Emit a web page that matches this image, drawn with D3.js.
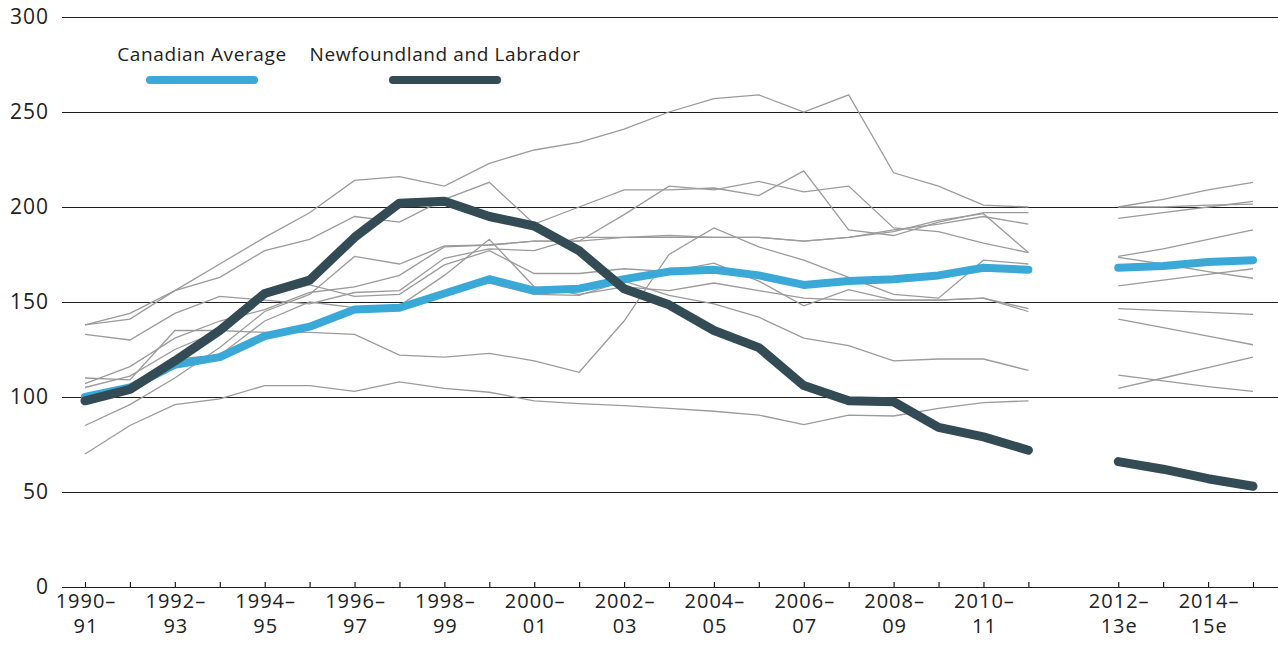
<!DOCTYPE html>
<html>
<head>
<meta charset="utf-8">
<script src="https://cdn.jsdelivr.net/npm/d3@7"></script>
<style>
    body { margin: 0; background: #fff; }
    svg text { font-family: "Open Sans", sans-serif; fill: #222; }
</style>
</head>
<body>
<svg id="chart" width="1278" height="648"></svg>
<script>
// categories
const years = ["1990–91", "1991–92", "1992–93", "1993–94", "1994–95", "1995–96", "1996–97",
    "1997–98", "1998–99", "1999–00", "2000–01", "2001–02", "2002–03", "2003–04", "2004–05",
    "2005–06", "2006–07", "2007–08", "2008–09", "2009–10", "2010–11", "2011–12"];
const projYears = ["2012–13e", "2013–14e", "2014–15e", "2015–16e"];
const labelledYears = ["1990–91", "1992–93", "1994–95", "1996–97", "1998–99", "2000–01", "2002–03",
    "2004–05", "2006–07", "2008–09", "2010–11", "2012–13e", "2014–15e"];
const yTicks = [0, 50, 100, 150, 200, 250, 300];

// highlighted series
const canada = [100, 105, 117, 121, 132, 137, 146, 147, 154.5, 162, 156, 157, 162, 166, 167, 164, 159, 161, 162, 164, 168, 167];
const canadaProj = [168, 169, 171, 172];
const nfld = [98, 104, 119, 135, 154.5, 161.5, 184, 202, 203, 195, 190, 177, 157, 148.5, 135, 126, 106, 98, 97.5, 84, 79, 72];
const nfldProj = [66, 62, 57, 53];

// the other provinces (thin grey lines)
const otherHist = [
    [138, 144, 156, 170, 184, 197, 214, 216, 211, 223, 230, 234, 241, 250, 257, 259, 250, 259, 218, 211, 201, 200],
    [138, 141, 156, 163, 177, 183, 195, 192, 204, 213, 191, 200, 209, 209, 210, 206, 219, 188, 185, 192, 197, 197],
    [133, 130, 144, 153, 151, 149, 155, 156, 173, 178, 177, 184, 184, 185, 184, 184, 182, 184, 188, 191, 195, 191],
    [110, 109, 135, 135, 134, 134, 133, 122, 121, 123, 119, 113, 140, 175, 189, 179, 172, 163, 154, 152, 172, 170],
    [107, 116, 131, 140, 146, 155, 158, 164, 179, 180, 182, 182, 184, 184, 184, 184, 182, 184, 187, 193, 196.5, 176],
    [105, 111, 125, 135, 153, 159, 153, 154, 169.5, 177, 165, 165, 167.5, 166, 170.5, 161, 148, 156.5, 151, 151, 152, 146.5],
    [101, 104, 120, 122, 140, 150, 147, 148, 164, 183, 158, 154, 158, 156, 160, 156, 152, 151, 151, 151, 152, 145],
    [100, 104, 117, 121, 132, 137, 146, 147, 155, 160, 154, 153.5, 161, 153.5, 149, 142, 131, 127, 119, 120, 120, 114],
    [85, 96, 110, 126, 145, 154, 174, 170, 179.5, 180, 182, 182, 196, 211, 209, 213.5, 208, 211, 189, 187, 181, 176],
    [70, 85, 96, 99, 106, 106, 103, 108, 104.5, 102.5, 98, 96.5, 95.5, 94, 92.5, 90.5, 85.5, 90.5, 90, 94, 97, 98]
];
const otherProj = [
    [200, 204, 209, 213],
    [194, 197, 200, 203],
    [200, 200, 201, 201.5],
    [174, 178, 183, 188],
    [158.5, 161.5, 164.5, 167.5],
    [146.5, 145.5, 144.5, 143.5],
    [141, 136.5, 132, 127.5],
    [111.5, 108.5, 105.5, 103],
    [173.5, 170, 166, 162.5],
    [104.5, 110, 115.5, 121]
];

const legendItems = ["Canadian Average", "Newfoundland and Labrador"];
const blue = "#3aa9d8", dark = "#334b54", grey = "#9b9b9b";

const svg = d3.select("#chart");
const left = 62, right = 1278;

let x = d3.scalePoint()
    .domain([...years, "gap", ...projYears])
    .range([85, 1253]);

let y = d3.scaleLinear()
    .domain([0, 300])
    .range([587, 17]);

// gridlines + y labels
let yAxis = d3.axisLeft(y)
    .tickValues(yTicks)
    .tickSize(-(right - left))
    .tickPadding(13);
let yg = svg.append("g")
    .attr("transform", "translate(" + left + ",0)")
    .call(yAxis);
yg.select(".domain").remove();
yg.selectAll("line").attr("stroke", "#1e1e1e").attr("stroke-width", 1.2);
yg.selectAll("text")
    .style("font-size", "21px")
    .style("letter-spacing", "1px")
    .style("font-family", "'Open Sans', sans-serif")
    .attr("fill", "#222");

// x ticks
let xAxis = d3.axisBottom(x)
    .tickValues([...years, ...projYears])
    .tickSize(-5)
    .tickFormat("");
let xg = svg.append("g")
    .attr("transform", "translate(0," + y(0) + ")")
    .call(xAxis);
xg.select(".domain").remove();
xg.selectAll("line").attr("stroke", "#1e1e1e").attr("stroke-width", 1.2);

let labels = svg.append("g")
    .selectAll("text")
    .data(labelledYears)
    .join("text")
    .attr("x", d => x(d))
    .attr("y", 608)
    .attr("text-anchor", "middle")
    .style("font-size", "20px")
    .style("letter-spacing", "1px");
labels.append("tspan")
    .attr("x", d => x(d) + 1)
    .text(d => d.split("–")[0] + "–");
labels.append("tspan")
    .attr("x", d => x(d) + 1)
    .attr("dy", 25)
    .text(d => d.split("–")[1]);

// lines
const line = d3.line()
    .x(d => x(d[0]))
    .y(d => y(d[1]));

function pairs(keys, vals) {
    return vals.map((v, i) => [keys[i], v]);
}

let others = svg.append("g").attr("id", "others");
otherHist.forEach((h, k) => {
    others.append("path")
        .attr("d", line(pairs(years, h)))
        .attr("fill", "none")
        .attr("stroke", grey)
        .attr("stroke-width", 1.3);
    others.append("path")
        .attr("d", line(pairs(projYears, otherProj[k])))
        .attr("fill", "none")
        .attr("stroke", grey)
        .attr("stroke-width", 1.3);
});

function mainLine(hist, proj, color, w) {
    [pairs(years, hist), pairs(projYears, proj)].forEach(p => {
        svg.append("path")
            .attr("d", line(p))
            .attr("fill", "none")
            .attr("stroke", color)
            .attr("stroke-width", w)
            .attr("stroke-linecap", "round")
            .attr("stroke-linejoin", "round");
    });
}
mainLine(canada, canadaProj, blue, 8);
mainLine(nfld, nfldProj, dark, 9);

// legend
const legendX = [202, 445];
const legendColors = [blue, dark];
legendItems.forEach((name, i) => {
    svg.append("text")
        .attr("x", legendX[i])
        .attr("y", 61)
        .attr("text-anchor", "middle")
        .style("font-size", "19px")
        .style("letter-spacing", "0.6px")
        .text(name);
    svg.append("line")
        .attr("x1", legendX[i] - 52)
        .attr("x2", legendX[i] + 52)
        .attr("y1", 80)
        .attr("y2", 80)
        .attr("stroke", legendColors[i])
        .attr("stroke-width", 8)
        .attr("stroke-linecap", "round");
});
</script>
</body>
</html>
